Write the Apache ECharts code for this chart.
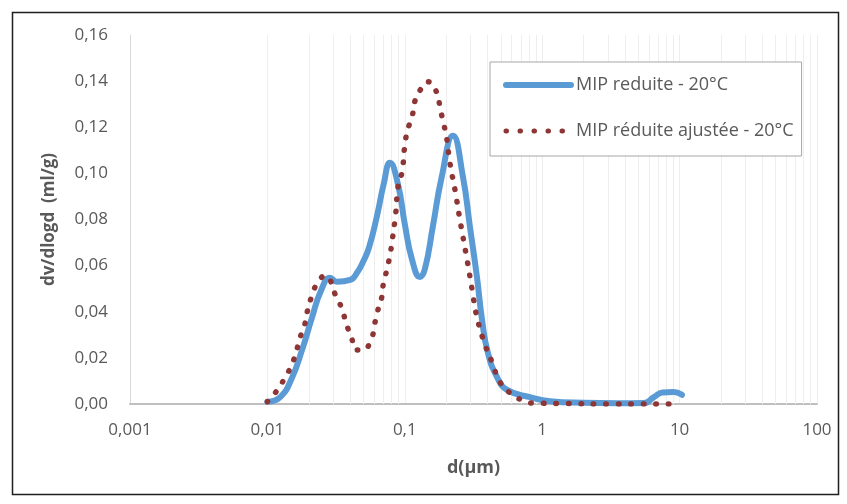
<!DOCTYPE html>
<html>
<head>
<meta charset="utf-8">
<script src="https://cdn.jsdelivr.net/npm/echarts@6/dist/echarts.min.js"></script>
<style>
html,body{margin:0;padding:0;background:#fff;}
#chart{width:847px;height:504px;}
</style>
</head>
<body>
<div id="chart"></div>
<script>
// Series names
const seriesNames = ['MIP reduite - 20°C', 'MIP réduite ajustée - 20°C'];

// Blue curve: x = d (µm), y = dv/dlogd (ml/g)
const reduiteX = [0.0100, 0.0124, 0.0150, 0.0180, 0.0210, 0.0245, 0.0286, 0.0321, 0.0400, 0.0450, 0.0500, 0.0550, 0.0630, 0.0700, 0.0780, 0.0890, 0.1000, 0.1130, 0.1290, 0.1400, 0.1600, 0.1850, 0.2240, 0.2650, 0.2980, 0.3350, 0.3650, 0.4030, 0.4690, 0.5550, 0.8150, 1.14, 2.0, 3.5, 5.5, 6.5, 7.5, 9.0, 10.4];
const reduiteY = [0.001, 0.003, 0.011, 0.024, 0.037, 0.049, 0.0547, 0.053, 0.0538, 0.057, 0.062, 0.068, 0.082, 0.095, 0.1046, 0.0955, 0.078, 0.0625, 0.0551, 0.0585, 0.077, 0.098, 0.1163, 0.0985, 0.0768, 0.0551, 0.0364, 0.0221, 0.0117, 0.0061, 0.003, 0.0012, 0.0005, 0.0003, 0.0004, 0.003, 0.005, 0.0052, 0.004];

// Red dotted curve
const ajusteeX = [0.0100, 0.0118, 0.0133, 0.0149, 0.0162, 0.0171, 0.0186, 0.0195, 0.0208, 0.0227, 0.0262, 0.0320, 0.0350, 0.0374, 0.0408, 0.0445, 0.0495, 0.0569, 0.0600, 0.0632, 0.0678, 0.0700, 0.0739, 0.0780, 0.0806, 0.0860, 0.0893, 0.0955, 0.1000, 0.1050, 0.1130, 0.1180, 0.1290, 0.1480, 0.1710, 0.1800, 0.1900, 0.2000, 0.2130, 0.2320, 0.2520, 0.2840, 0.3090, 0.3350, 0.3840, 0.4310, 0.4930, 0.5830, 0.7130, 0.8570, 1.5, 3.0, 5.0, 7.5, 10.0];
const ajusteeY = [0.001, 0.006, 0.011, 0.0165, 0.0226, 0.028, 0.034, 0.040, 0.046, 0.0516, 0.0556, 0.046, 0.041, 0.035, 0.029, 0.0234, 0.0234, 0.028, 0.034, 0.040, 0.046, 0.0525, 0.058, 0.0647, 0.070, 0.083, 0.094, 0.1007, 0.112, 0.119, 0.1245, 0.131, 0.136, 0.1397, 0.135, 0.129, 0.1224, 0.1167, 0.1045, 0.0928, 0.0798, 0.0625, 0.0495, 0.0377, 0.0256, 0.0182, 0.0095, 0.0048, 0.0017, 0.0004, 0.0002, 0, 0, 0, 0];

// Axis settings
const xMin = 0.001, xMax = 100;
const yMin = 0, yMax = 0.16, yStep = 0.02;
const xTitle = 'd(µm)';
const yTitle = 'dv/dlogd  (ml/g)';
// Minor log gridline positions (2..9 in each decade)
const minorGridValues = [];
[0.001, 0.01, 0.1, 1, 10].forEach(function (dec) {
  for (let k = 2; k <= 9; k++) minorGridValues.push(Number((dec * k).toPrecision(6)));
});

function zip(xs, ys) { return xs.map(function (x, i) { return [x, ys[i]]; }); }
function fmtNum(v) { return String(Number(Number(v).toPrecision(6))).replace('.', ','); }

const FONT = 'Open Sans';
const BLUE = '#5b9bd5', RED = '#8e3535';
const chart = echarts.init(document.getElementById('chart'), null, { renderer: 'canvas' });
chart.setOption({
  backgroundColor: '#ffffff',
  animation: false,
  textStyle: { fontFamily: FONT },
  graphic: [{
    type: 'rect', left: 10, top: 10, z: 100, silent: true,
    shape: { width: 826, height: 482 },
    style: { fill: 'none', stroke: '#1f1f1f', lineWidth: 1.5 }
  }],
  grid: { left: 130, right: 30, top: 35, bottom: 100, containLabel: false },
  legend: {
    orient: 'vertical', left: 490, top: 62,
    data: [
      { name: seriesNames[0], lineStyle: { width: 6, color: BLUE } },
      { name: seriesNames[1], lineStyle: { width: 5, color: RED, type: [0.5, 13.5], cap: 'round' } }
    ],
    itemWidth: 65, itemHeight: 16, itemGap: 28,
    padding: [14, 8, 16, 13],
    backgroundColor: '#ffffff',
    borderColor: '#a6a6a6', borderWidth: 1,
    itemStyle: { opacity: 0 },
    textStyle: { fontFamily: FONT, fontSize: 18, color: '#595959', padding: [0, 0, 0, 0] },
    z: 10
  },
  xAxis: {
    type: 'log', logBase: 10, min: xMin, max: xMax,
    name: xTitle, nameLocation: 'middle', nameGap: 55,
    nameTextStyle: { fontFamily: FONT, fontSize: 18, fontWeight: 'bold', color: '#595959' },
    axisLine: { show: true, lineStyle: { color: '#bfbfbf', width: 2 } },
    axisTick: { show: false },
    axisLabel: { fontFamily: FONT, fontSize: 17, color: '#595959', margin: 18, formatter: fmtNum },
    splitLine: { show: true, lineStyle: { color: '#eeeeee', width: 1 } }
  },
  yAxis: {
    type: 'value', min: yMin, max: yMax, interval: yStep,
    name: yTitle, nameLocation: 'middle', nameGap: 72, nameRotate: 90,
    nameTextStyle: { fontFamily: FONT, fontSize: 17, fontWeight: 'bold', color: '#595959' },
    axisLine: { show: true, lineStyle: { color: '#d9d9d9', width: 1 } },
    axisTick: { show: false },
    axisLabel: { fontFamily: FONT, fontSize: 17, color: '#595959', margin: 22,
      formatter: function (v) { return v.toFixed(2).replace('.', ','); } },
    splitLine: { show: false }
  },
  series: [
    {
      name: '_grid', type: 'line', data: [], silent: true, z: 1,
      markLine: {
        silent: true, symbol: ['none', 'none'], z: 1,
        label: { show: false },
        lineStyle: { color: '#eeeeee', width: 1, type: 'solid' },
        emphasis: { disabled: true },
        data: minorGridValues.map(function (v) { return { xAxis: v }; })
      }
    },
    {
      name: seriesNames[0], type: 'line', data: zip(reduiteX, reduiteY),
      smooth: 0.5, showSymbol: false, symbol: 'none', z: 3,
      lineStyle: { color: BLUE, width: 6, cap: 'round', join: 'round' },
      itemStyle: { color: BLUE }
    },
    {
      name: seriesNames[1], type: 'line', data: zip(ajusteeX, ajusteeY),
      smooth: 0.5, showSymbol: false, symbol: 'none', z: 4,
      lineStyle: { color: RED, width: 5.5, type: [0.5, 12], cap: 'round', join: 'round' },
      itemStyle: { color: RED }
    }
  ]
});
</script>
</body>
</html>
